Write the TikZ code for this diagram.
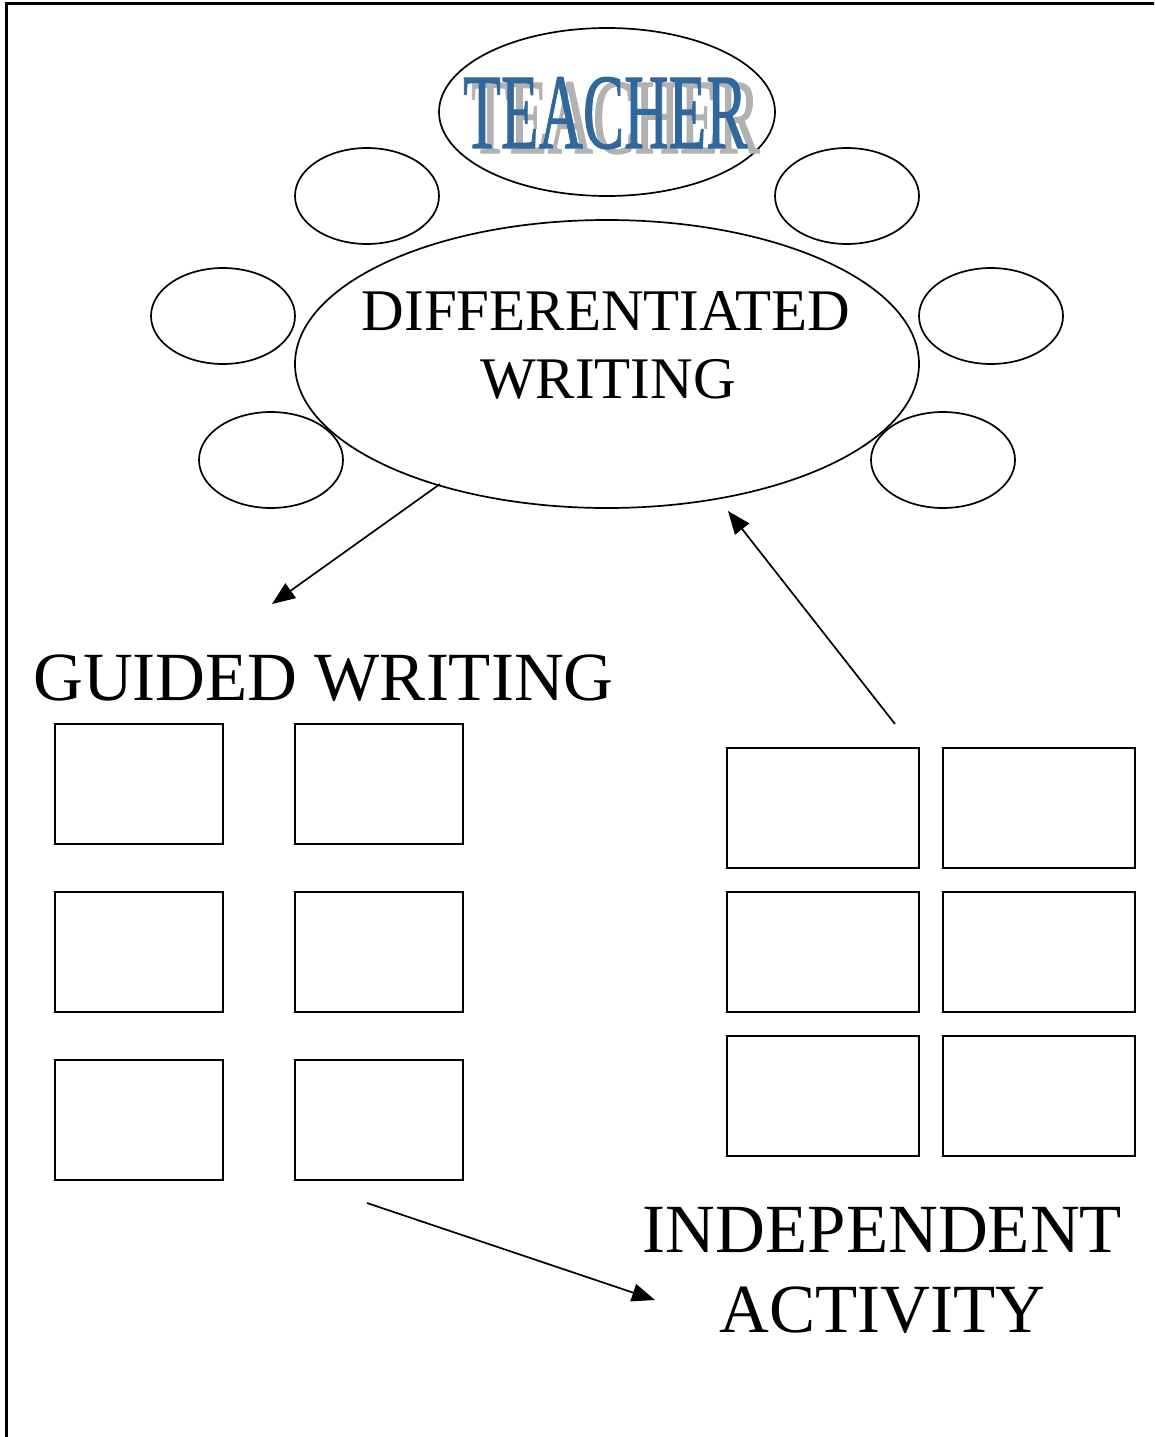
\documentclass[tikz,border=0pt]{standalone}
\usepackage{fontspec}
\usepackage{graphicx}
\setmainfont{Liberation Serif}
\usetikzlibrary{shapes.geometric,arrows.meta}
\definecolor{teachblue}{RGB}{48,104,158}
\definecolor{teachgray}{RGB}{178,178,178}
\newfontfamily\teachfont[FakeBold=1.2]{Liberation Serif}
\tikzset{
  line/.style={line width=1.7pt},
  oval/.style={draw, line, ellipse, inner sep=0pt},
  smalloval/.style={oval, minimum width=144pt, minimum height=96pt},
  gbox/.style={draw, line, rectangle, inner sep=0pt, minimum width=168pt, minimum height=120pt},
  ibox/.style={draw, line, rectangle, inner sep=0pt, minimum width=192pt, minimum height=120pt},
  conn/.style={line, -{Triangle[length=23pt,width=18pt]}},
  bigtext/.style={font=\fontsize{69}{80}\selectfont, anchor=base, inner sep=0pt},
  midtext/.style={font=\fontsize{59}{68}\selectfont, anchor=base, inner sep=0pt},
  teach/.style={font=\teachfont\fontsize{107}{110}\selectfont, anchor=base west, inner sep=0pt}
}
\begin{document}
\begin{tikzpicture}[x=1pt,y=-1pt]
\useasboundingbox (0,0) rectangle (1154,1437);
\clip (0,0) rectangle (1154,1437);
\fill[white] (0,0) rectangle (1154,1437);
% frame
\draw[line width=2.2pt] (6.5,1460) -- (6.5,3.5) -- (1170,3.5);
% teacher
\node[oval, minimum width=336pt, minimum height=168pt] (teacher) at (607,112) {};
\node[teach] (teachtext) at (463,148) {\makebox[0pt][l]{\hspace{8pt}\raisebox{-5pt}{\textcolor{teachgray}{\scalebox{0.585}[1]{TEACHER}}}}\textcolor{teachblue}{\scalebox{0.576}[1]{TEACHER}}};
% main ellipse
\node[oval, minimum width=624pt, minimum height=288pt] (main) at (607,364) {};
\node[midtext] (diff) at (606,330) {DIFFERENTIATED};
\node[midtext] (writ) at (608,398) {WRITING};
% small ellipses
\node[smalloval] (s1) at (367,196) {};
\node[smalloval] (s2) at (847,196) {};
\node[smalloval] (s3) at (223,316) {};
\node[smalloval] (s4) at (991,316) {};
\node[smalloval] (s5) at (271,460) {};
\node[smalloval] (s6) at (943,460) {};
% guided writing
\node[bigtext] (guided) at (323.5,700) {GUIDED WRITING};
\node[gbox] (g11) at (139,784) {};
\node[gbox] (g12) at (379,784) {};
\node[gbox] (g21) at (139,952) {};
\node[gbox] (g22) at (379,952) {};
\node[gbox] (g31) at (139,1120) {};
\node[gbox] (g32) at (379,1120) {};
% independent
\node[ibox] (i11) at (823,808) {};
\node[ibox] (i12) at (1039,808) {};
\node[ibox] (i21) at (823,952) {};
\node[ibox] (i22) at (1039,952) {};
\node[ibox] (i31) at (823,1096) {};
\node[ibox] (i32) at (1039,1096) {};
\node[bigtext] (indep) at (882.5,1252) {INDEPENDENT};
\node[bigtext] (activ) at (882.5,1332) {ACTIVITY};
% arrows
\coordinate (a1s) at (440,484);
\coordinate (a1e) at (272,604);
\coordinate (a2s) at (895,724);
\coordinate (a2e) at (728,511);
\coordinate (a3s) at (367,1203);
\coordinate (a3e) at (655,1300);
\draw[conn] (a1s) -- (a1e);
\draw[conn] (a2s) -- (a2e);
\draw[conn] (a3s) -- (a3e);
\end{tikzpicture}
\end{document}
